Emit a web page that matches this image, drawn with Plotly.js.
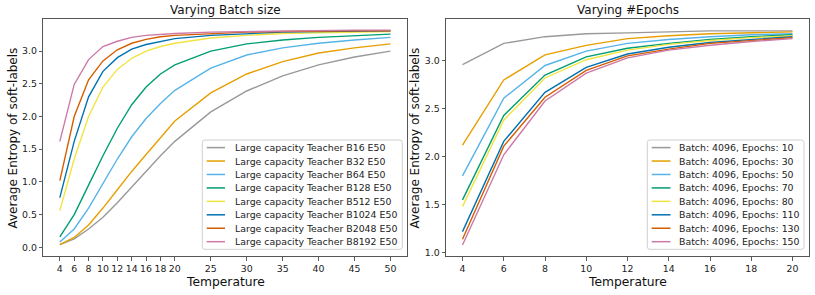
<!DOCTYPE html>
<html>
<head>
<meta charset="utf-8">
<script src="https://cdn.plot.ly/plotly-3.0.1.min.js"></script>
<style>
html,body{margin:0;padding:0;background:#fff;}
#chart{width:815px;height:295px;}
</style>
</head>
<body>
<div id="chart"></div>
<script>
// ---------- data ----------
var tempsBatch = [4, 6, 8, 10, 12, 14, 16, 18, 20, 25, 30, 35, 40, 45, 50];
var batchNames = ["Large capacity Teacher B16 E50", "Large capacity Teacher B32 E50",
  "Large capacity Teacher B64 E50", "Large capacity Teacher B128 E50",
  "Large capacity Teacher B512 E50", "Large capacity Teacher B1024 E50",
  "Large capacity Teacher B2048 E50", "Large capacity Teacher B8192 E50"];
var B16   = [0.04, 0.13, 0.28, 0.46, 0.68, 0.92, 1.16, 1.40, 1.62, 2.07, 2.39, 2.62, 2.79, 2.91, 3.00];
var B32   = [0.04, 0.15, 0.34, 0.60, 0.88, 1.16, 1.42, 1.67, 1.93, 2.36, 2.65, 2.84, 2.97, 3.05, 3.11];
var B64   = [0.08, 0.28, 0.60, 0.98, 1.35, 1.69, 1.97, 2.20, 2.40, 2.74, 2.94, 3.05, 3.12, 3.17, 3.21];
var B128  = [0.16, 0.50, 0.95, 1.40, 1.82, 2.18, 2.45, 2.65, 2.79, 3.00, 3.11, 3.17, 3.21, 3.24, 3.26];
var B512  = [0.56, 1.35, 2.00, 2.45, 2.72, 2.89, 3.00, 3.07, 3.12, 3.20, 3.24, 3.27, 3.28, 3.29, 3.30];
var B1024 = [0.76, 1.62, 2.30, 2.69, 2.90, 3.03, 3.10, 3.15, 3.19, 3.24, 3.27, 3.29, 3.30, 3.30, 3.31];
var B2048 = [1.02, 2.00, 2.56, 2.85, 3.02, 3.12, 3.18, 3.22, 3.24, 3.27, 3.29, 3.30, 3.31, 3.31, 3.31];
var B8192 = [1.62, 2.49, 2.87, 3.07, 3.15, 3.21, 3.24, 3.26, 3.27, 3.29, 3.30, 3.31, 3.32, 3.32, 3.32];

var tempsEpoch = [4, 6, 8, 10, 12, 14, 16, 18, 20];
var epochNames = ["Batch: 4096, Epochs: 10", "Batch: 4096, Epochs: 30", "Batch: 4096, Epochs: 50",
  "Batch: 4096, Epochs: 70", "Batch: 4096, Epochs: 80", "Batch: 4096, Epochs: 110",
  "Batch: 4096, Epochs: 130", "Batch: 4096, Epochs: 150"];
var E10  = [2.96, 3.18, 3.25, 3.28, 3.29, 3.30, 3.31, 3.31, 3.31];
var E30  = [2.12, 2.80, 3.06, 3.16, 3.23, 3.26, 3.28, 3.29, 3.30];
var E50  = [1.80, 2.61, 2.95, 3.10, 3.18, 3.22, 3.25, 3.27, 3.28];
var E70  = [1.55, 2.43, 2.85, 3.04, 3.13, 3.18, 3.22, 3.25, 3.27];
var E80  = [1.48, 2.38, 2.82, 3.01, 3.11, 3.17, 3.21, 3.24, 3.26];
var E110 = [1.22, 2.16, 2.67, 2.93, 3.07, 3.14, 3.19, 3.22, 3.25];
var E130 = [1.14, 2.11, 2.62, 2.90, 3.05, 3.12, 3.18, 3.21, 3.24];
var E150 = [1.08, 2.02, 2.58, 2.87, 3.03, 3.11, 3.16, 3.20, 3.23];

var xTicksBatch = [4, 6, 8, 10, 12, 14, 16, 18, 20, 25, 30, 35, 40, 45, 50];
var xTicksEpoch = [4, 6, 8, 10, 12, 14, 16, 18, 20];
var yTicksBatch = [0.0, 0.5, 1.0, 1.5, 2.0, 2.5, 3.0];
var yTicksEpoch = [1.0, 1.5, 2.0, 2.5, 3.0];

var colors = ["#999999", "#E69F00", "#56B4E9", "#009E73", "#F0E442", "#0072B2", "#D55E00", "#CC79A7"];

// ---------- build ----------
var W = 815, H = 295;
function px(x) { return x / W; }
function py(y) { return 1 - y / H; }

var batchSeries = [B16, B32, B64, B128, B512, B1024, B2048, B8192];
var epochSeries = [E10, E30, E50, E70, E80, E110, E130, E150];

var traces = [];
batchSeries.forEach(function (s, i) {
  traces.push({x: tempsBatch, y: s, type: "scatter", mode: "lines", name: batchNames[i],
    line: {color: colors[i], width: 1.4}, xaxis: "x", yaxis: "y", showlegend: false});
});
epochSeries.forEach(function (s, i) {
  traces.push({x: tempsEpoch, y: s, type: "scatter", mode: "lines", name: epochNames[i],
    line: {color: colors[i], width: 1.4}, xaxis: "x2", yaxis: "y2", showlegend: false});
});

var FONT = "DejaVu Sans, sans-serif";
var tickFont = {family: FONT, size: 9.4, color: "#222"};

function axisBase() {
  return {showline: true, mirror: true, linecolor: "#555", linewidth: 1,
    ticks: "outside", ticklen: 3.5, tickwidth: 0.8, tickcolor: "#333",
    showgrid: false, zeroline: false, tickfont: tickFont, fixedrange: true};
}

var yDom = [py(256), py(19.3)];
var xa = Object.assign(axisBase(), {domain: [px(43.3), px(407)], range: [1.7, 52.3],
  tickmode: "array", tickvals: xTicksBatch, ticktext: xTicksBatch.map(String), anchor: "y"});
var ya = Object.assign(axisBase(), {domain: yDom, range: [-0.133, 3.486],
  tickmode: "array", tickvals: yTicksBatch, ticktext: yTicksBatch.map(function (v) { return v.toFixed(1); }), anchor: "x"});
var xa2 = Object.assign(axisBase(), {domain: [px(446), px(809)], range: [3.2, 20.8],
  tickmode: "array", tickvals: xTicksEpoch, ticktext: xTicksEpoch.map(String), anchor: "y2"});
var ya2 = Object.assign(axisBase(), {domain: yDom, range: [0.966, 3.431],
  tickmode: "array", tickvals: yTicksEpoch, ticktext: yTicksEpoch.map(function (v) { return v.toFixed(1); }), anchor: "x2"});

var annotations = [];
var shapes = [];
function addText(text, x, y, size, opts) {
  annotations.push(Object.assign({text: text, xref: "paper", yref: "paper", x: px(x), y: py(y),
    showarrow: false, xanchor: "center", yanchor: "middle",
    font: {family: FONT, size: size, color: "#111"}}, opts || {}));
}
// titles
addText("Varying Batch size", 225.2, 10.5, 12);
addText("Varying #Epochs", 627.5, 10.5, 12);
addText("Temperature", 225.2, 281.5, 12.3);
addText("Temperature", 627.5, 281.5, 12.3);
addText("Average Entropy of soft-labels", 12.5, 138, 12, {textangle: -90});
addText("Average Entropy of soft-labels", 414.5, 138, 12, {textangle: -90});

// legends
function roundedRect(x0, y0, x1, y1, r) {
  var X0 = px(x0), X1 = px(x1), Y0 = py(y0), Y1 = py(y1);
  var rx = r / W, ry = r / H;
  return "M" + (X0 + rx) + "," + Y0 + " L" + (X1 - rx) + "," + Y0 +
    " Q" + X1 + "," + Y0 + " " + X1 + "," + (Y0 - ry) +
    " L" + X1 + "," + (Y1 + ry) + " Q" + X1 + "," + Y1 + " " + (X1 - rx) + "," + Y1 +
    " L" + (X0 + rx) + "," + Y1 + " Q" + X0 + "," + Y1 + " " + X0 + "," + (Y1 + ry) +
    " L" + X0 + "," + (Y0 - ry) + " Q" + X0 + "," + Y0 + " " + (X0 + rx) + "," + Y0 + " Z";
}
var LEG_FONT = 9.4;
function addLegend(names, box, lineX0, lineX1, textX, row0, rowStep) {
  shapes.push({type: "path", xref: "paper", yref: "paper", layer: "above",
    path: roundedRect(box[0], box[1], box[2], box[3], 2.5),
    line: {color: "#d0d0d0", width: 1}, fillcolor: "rgba(255,255,255,0.8)"});
  names.forEach(function (n, i) {
    var yy = row0 + rowStep * i;
    shapes.push({type: "line", xref: "paper", yref: "paper", layer: "above",
      x0: px(lineX0), x1: px(lineX1), y0: py(yy), y1: py(yy),
      line: {color: colors[i], width: 1.5}});
    addText(n, textX, yy, LEG_FONT, {xanchor: "left", font: {family: FONT, size: LEG_FONT, color: "#222"}});
  });
}
addLegend(batchNames, [202.3, 140, 402.3, 249.3], 206.7, 225, 232.5, 147.6, 13.44);
addLegend(epochNames, [647.3, 140, 804, 249.3], 651.7, 670.5, 677, 147.6, 13.44);

var layout = {
  width: W, height: H,
  margin: {l: 0, r: 0, t: 0, b: 0, pad: 0},
  paper_bgcolor: "#fff", plot_bgcolor: "#fff",
  showlegend: false,
  xaxis: xa, yaxis: ya, xaxis2: xa2, yaxis2: ya2,
  annotations: annotations, shapes: shapes,
  font: {family: FONT}
};

Plotly.newPlot("chart", traces, layout, {displayModeBar: false, staticPlot: true});
</script>
</body>
</html>
